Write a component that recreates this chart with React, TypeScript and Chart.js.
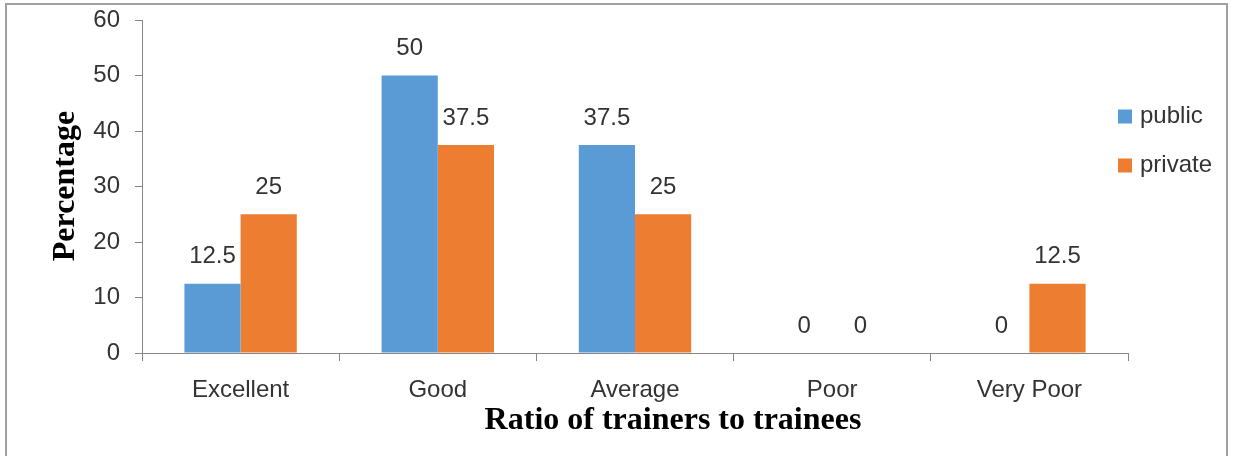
import React, { useEffect, useRef } from "react";
import { Chart, registerables } from "chart.js";

Chart.register(...registerables);

const categories = ["Excellent", "Good", "Average", "Poor", "Very Poor"];
const publicValues = [12.5, 50, 37.5, 0, 0];
const privateValues = [25, 37.5, 25, 0, 12.5];
const seriesNames = ["public", "private"];
const seriesColors = ["#5B9BD5", "#ED7D31"];
const yTitle = "Percentage";
const xTitle = "Ratio of trainers to trainees";

const SANS = "'Liberation Sans', Arial, sans-serif";
const SERIF = "'Liberation Serif', 'Times New Roman', serif";
const AXIS = "#868686";
const TEXT = "#333333";

export default function App() {
  const ref = useRef<HTMLCanvasElement | null>(null);
  useEffect(() => {
    document.body.style.margin = "0";
    const canvas = ref.current!;
    const overlay = {
      id: "overlay",
      beforeDraw(chart: any) {
        const ctx = chart.ctx;
        ctx.save();
        ctx.fillStyle = "#ffffff";
        ctx.fillRect(0, 0, chart.width, chart.height);
        ctx.restore();
      },
      afterDraw(chart: any) {
        const ctx = chart.ctx;
        ctx.save();
        // border
        ctx.strokeStyle = "#a0a0a0";
        ctx.lineWidth = 2;
        ctx.beginPath();
        ctx.moveTo(6, 470);
        ctx.lineTo(6, 4);
        ctx.lineTo(1227, 4);
        ctx.lineTo(1227, 470);
        ctx.stroke();
        // data labels
        ctx.fillStyle = TEXT;
        ctx.font = `24px ${SANS}`;
        ctx.textAlign = "center";
        ctx.textBaseline = "middle";
        chart.data.datasets.forEach((ds: any, di: number) => {
          const meta = chart.getDatasetMeta(di);
          meta.data.forEach((bar: any, i: number) => {
            const v = ds.data[i];
            ctx.fillText(String(v), bar.x, bar.y - 27);
          });
        });
        // axis titles
        ctx.fillStyle = "#000000";
        ctx.font = `bold 32px ${SERIF}`;
        ctx.textAlign = "center";
        ctx.textBaseline = "middle";
        ctx.fillText(xTitle, 673, 421);
        ctx.save();
        ctx.translate(66, 186);
        ctx.rotate(-Math.PI / 2);
        ctx.fillText(yTitle, 0, 0);
        ctx.restore();
        // legend
        const ly = [116.5, 165.5];
        ctx.font = `24px ${SANS}`;
        ctx.textAlign = "left";
        seriesNames.forEach((n, i) => {
          ctx.fillStyle = seriesColors[i];
          ctx.fillRect(1118, ly[i] - 7, 14, 14);
          ctx.fillStyle = TEXT;
          ctx.fillText(n, 1140, ly[i]);
        });
        ctx.restore();
      },
    };
    const chart = new Chart(canvas, {
      type: "bar",
      data: {
        labels: categories,
        datasets: [
          { label: seriesNames[0], data: publicValues, backgroundColor: seriesColors[0] },
          { label: seriesNames[1], data: privateValues, backgroundColor: seriesColors[1] },
        ],
      },
      options: {
        responsive: false,
        animation: false,
        events: [],
        layout: { padding: { left: 0, right: 106, top: 20, bottom: 0 } },
        datasets: { bar: { categoryPercentage: 0.57, barPercentage: 1 } },
        plugins: { legend: { display: false }, tooltip: { enabled: false } },
        scales: {
          x: {
            afterFit(scale: any) {
              scale.height = 103;
              scale.paddingLeft = 0;
              scale.paddingRight = 0;
            },
            grid: {
              display: true,
              drawOnChartArea: false,
              offset: true,
              tickLength: 8,
              color: AXIS,
            },
            border: { color: AXIS, width: 1 },
            ticks: {
              color: TEXT,
              font: { family: SANS, size: 24 },
              padding: 15,
              maxRotation: 0,
            },
          },
          y: {
            min: 0,
            max: 60,
            afterFit(scale: any) {
              scale.width = 142;
              scale.paddingTop = 0;
              scale.paddingBottom = 0;
            },
            grid: { display: true, drawOnChartArea: false, tickLength: 7, color: AXIS },
            border: { color: AXIS, width: 1 },
            ticks: {
              stepSize: 10,
              color: TEXT,
              font: { family: SANS, size: 24 },
              padding: 15,
            },
          },
        },
      },
      plugins: [overlay],
    });
    return () => chart.destroy();
  }, []);
  return (
    <div style={{ position: "fixed", left: 0, top: 0, width: 1234, height: 456 }}>
      <canvas ref={ref} width={1234} height={456} style={{ display: "block" }} />
    </div>
  );
}
